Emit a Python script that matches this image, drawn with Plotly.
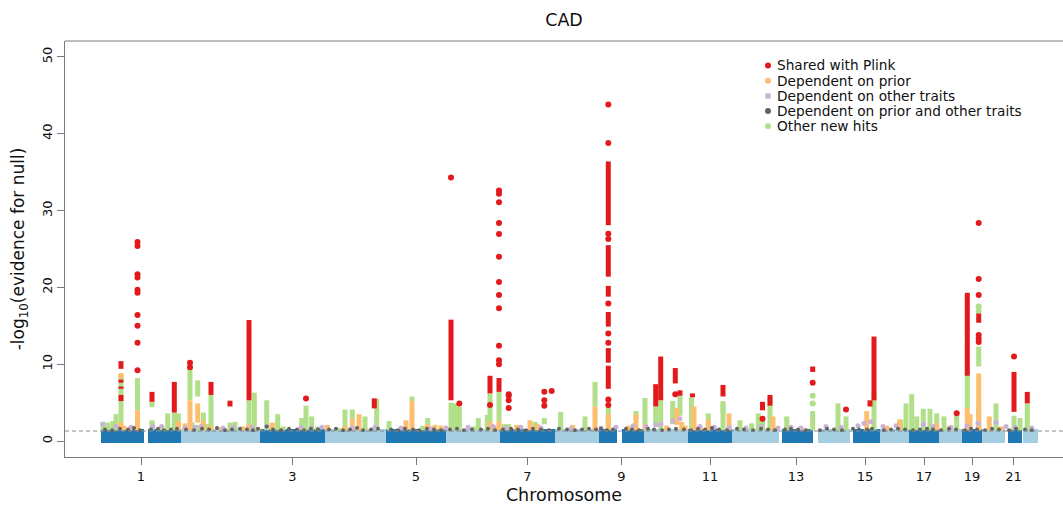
import plotly.graph_objects as go

# ---------------- data ----------------
chrom_labels = [str(i) for i in range(1, 23)]
# chromosome extent in SNP-index units (thousands of SNPs)
chrom_size = [80, 79, 65, 61, 60, 54, 55, 44, 45, 44, 44, 47, 34, 37, 30, 29, 30, 23, 20, 23, 17, 16]
# leading part of acrocentric chromosomes without genotyped SNPs
chrom_unmapped_p = [0, 0, 0, 0, 0, 0, 0, 0, 0, 0, 0, 0, 3, 5, 3, 0, 0, 0, 0, 0, 3, 1]
# centromere gaps (offset within chromosome)
gap_chrom = [1, 9]
gap_start = [42.7, 18]
gap_end = [47.3, 23]
threshold = 1.3
labelled_chroms = [1, 3, 5, 7, 9, 11, 13, 15, 17, 19, 21]

# columns of dense hits (genome index, low, high)
red_seg_x = [20, 20, 20, 20, 51, 73.3, 110, 129, 148, 273.3, 350, 389, 398, 507.3, 507.3, 507.3, 507.3, 507.3, 507.3,
             554.7, 559.7, 574.3, 579, 591.5, 622, 661.5, 669, 711.7, 769, 773, 866.3, 877.7, 913, 926.3]
red_seg_lo = [9.4, 7.6, 6.8, 5.2, 5.1, 3.7, 6.0, 4.5, 5.3, 4.25, 5.3, 6.2, 6.4, 28.1, 21.4, 18.8, 14.9, 10.2, 6.8,
              4.5, 5.3, 7.5, 5.9, 5.7, 5.8, 4.0, 4.6, 9.0, 4.5, 5.3, 8.5, 15.4, 3.8, 4.9]
red_seg_hi = [10.4, 8.0, 7.1, 6.0, 6.4, 7.7, 7.7, 5.25, 15.75, 5.55, 15.8, 8.5, 8.2, 36.4, 25.5, 20.2, 16.8, 12.1, 9.8,
              7.4, 11.0, 9.5, 6.6, 6.2, 7.3, 5.1, 6.0, 9.7, 5.3, 13.6, 19.3, 16.6, 9.0, 6.4]
red_dot_x = [36.5, 36.5, 36.5, 36.5, 36.5, 36.5, 36.5, 36.5, 36.5, 36.5, 89, 89, 205, 350, 358.3, 389,
             398, 398, 398, 398, 398, 398, 398, 398, 398, 398, 398, 398, 407.7, 407.7, 407.7, 407.7,
             443.3, 443.3, 443.3, 450.7, 507.3, 507.3, 507.3, 507.3, 507.3, 507.3, 507.3, 507.3, 507.3,
             574.3, 661.5, 711.7, 745, 855.7, 877.7, 877.7, 877.7, 877.7, 877.7, 877.7, 913]
red_dot_y = [25.9, 25.4, 21.7, 21.3, 19.7, 19.3, 16.4, 15.0, 12.8, 9.2, 10.2, 9.6, 5.55, 34.3, 4.9, 4.7,
             32.6, 32.2, 31.1, 28.4, 26.95, 24.0, 20.7, 19.0, 17.3, 12.4, 10.5, 10.0, 6.1, 5.9, 5.3, 4.3,
             6.4, 5.3, 4.6, 6.5, 43.8, 38.8, 27.0, 26.3, 17.9, 14.0, 12.8, 5.4, 4.7,
             6.1, 2.9, 7.6, 4.1, 3.6, 28.4, 21.1, 19.0, 13.8, 13.3, 12.9, 11.0]

orange_seg_x = [20, 23, 30, 36.5, 77.3, 84, 89, 96.7, 102.3, 110, 120, 142, 148, 158, 171.3, 226.3, 244, 251.3,
                258, 305, 311, 326.7, 334, 340, 389, 393, 398, 415.7, 429, 436.3, 471.7, 494, 507.3, 527.3,
                535, 544, 565.7, 575.7, 580.7, 584, 593, 599, 607.3, 628, 672, 701.7, 765.7, 785.7, 798.5,
                835.7, 849, 866.3, 869, 877.7, 888.3, 900.7]
orange_seg_lo = [1.4, 1.4, 1.4, 1.4, 1.4, 1.4, 1.4, 2.4, 1.4, 1.4, 1.4, 1.4, 1.4, 1.4, 1.4, 1.4, 1.4, 1.4,
                 1.4, 1.4, 1.4, 1.4, 1.4, 1.4, 1.4, 1.4, 1.4, 1.4, 1.4, 1.4, 1.4, 1.4, 1.4, 1.4,
                 1.4, 1.4, 1.4, 2.1, 1.4, 1.4, 1.4, 1.4, 1.4, 1.4, 1.4, 1.4, 1.4, 1.4, 1.4,
                 1.4, 1.4, 1.4, 1.4, 1.4, 1.4, 1.4]
orange_seg_hi = [2.5, 2.0, 1.8, 4.0, 2.6, 2.3, 5.3, 4.9, 2.6, 2.0, 1.8, 1.9, 2.2, 1.7, 2.4, 2.1, 2.0, 2.9,
                 3.5, 2.7, 5.2, 2.2, 2.1, 2.0, 2.5, 2.0, 2.6, 2.1, 2.7, 2.2, 2.1, 4.5, 3.5, 2.0,
                 3.5, 2.2, 2.0, 4.3, 2.5, 2.0, 4.5, 1.8, 2.8, 3.6, 3.2, 1.7, 3.9, 2.0, 2.8,
                 2.3, 2.0, 4.3, 3.5, 8.8, 3.2, 1.9]
orange_dot_x = [20]
orange_dot_y = [8.5]

green_seg_x = [2, 7, 12, 15, 20, 36.5, 51, 51, 60.7, 66.7, 73.3, 77.3, 89, 91, 96.7, 96.7, 102.3, 106, 110, 129,
               134, 148, 153.3, 165.7, 176.7, 182.3, 200.7, 205, 210.7, 216.7, 237.3, 244, 251.3, 264, 275.7,
               288, 311, 321.7, 326.7, 350, 354, 358.3, 372.3, 377.3, 386.3, 389, 398, 403, 407.7, 434, 443.3,
               459.7, 484, 494, 507.3, 535, 544, 554.7, 559.7, 571.7, 579, 590.5, 607.3, 622, 622, 639, 650.7,
               657.3, 661.5, 669, 685.7, 711.7, 737, 745, 773, 799.7, 805, 810.7, 815.7, 822.3, 829, 835.7,
               843, 855.7, 866.3, 877.7, 877.7, 895, 913, 919, 926.3]
green_seg_lo = [1.4, 1.4, 1.4, 1.4, 1.4, 4.0, 1.4, 4.4, 1.4, 1.4, 1.4, 1.4, 5.3, 1.4, 1.4, 5.8, 1.4, 1.4, 1.4, 1.4,
                1.4, 1.4, 1.4, 1.4, 1.4, 1.4, 1.4, 1.4, 1.4, 1.4, 1.4, 1.4, 2.9, 1.4, 1.4,
                1.4, 5.2, 1.4, 1.4, 1.4, 1.4, 1.4, 1.4, 1.4, 1.4, 1.4, 2.6, 1.4, 1.4, 1.4, 2.2,
                1.4, 1.4, 4.5, 1.4, 2.9, 2.2, 2.2, 1.4, 2.2, 3.3, 1.4, 1.4, 1.4, 3.6, 1.4, 1.4,
                1.4, 1.4, 1.4, 1.4, 1.4, 1.4, 1.4, 1.4, 1.4, 1.4, 1.4, 1.4, 1.4, 1.4, 1.4,
                1.4, 1.4, 4.3, 9.7, 1.4, 1.4, 1.4, 1.4, 1.4]
green_seg_hi = [2.5, 2.4, 2.6, 3.5, 8.6, 8.2, 2.7, 5.1, 2.0, 3.6, 3.7, 3.6, 9.5, 2.4, 2.1, 7.9, 3.7, 2.2, 6.0, 2.4,
                2.5, 5.3, 6.3, 5.3, 3.5, 1.9, 3.0, 4.6, 3.2, 1.9, 1.7, 4.1, 4.1, 3.2, 5.5,
                2.6, 5.8, 2.0, 3.0, 5.0, 4.9, 4.5, 1.9, 3.0, 3.4, 6.2, 6.4, 2.2, 2.2, 2.5, 3.0,
                3.8, 3.2, 7.7, 4.5, 3.9, 5.6, 4.5, 5.3, 5.2, 5.9, 5.7, 3.6, 5.0, 5.2, 2.7, 2.3,
                3.6, 2.9, 5.7, 3.2, 3.9, 4.9, 3.2, 6.2, 2.8, 4.9, 6.1, 3.2, 4.2, 4.2, 3.6,
                3.2, 3.3, 8.8, 12.3, 4.5, 4.9, 3.3, 3.0, 4.9]
green_dot_x = [711.7, 711.7, 877.7, 877.7]
green_dot_y = [5.9, 4.9, 17.5, 16.9]

purple_x = [2, 15, 30, 52, 60.7, 84, 94, 100, 122, 132, 151, 166, 200, 210, 221, 251, 274, 300, 330, 345, 367,
            392, 405, 420, 440, 470, 500, 515, 532, 545, 554.7, 559.7, 571.7, 579, 599, 613.3, 628, 645, 660,
            677, 690, 700, 725, 740, 757, 763, 770, 782, 795, 822.3, 832, 850, 866, 877, 895, 905, 914, 930.7]
purple_y = [2.2, 1.9, 1.8, 1.9, 1.9, 1.7, 1.8, 1.9, 1.7, 1.8, 1.8, 1.9, 1.8, 1.7, 1.8, 1.7, 1.8, 1.7, 1.6, 1.7, 1.8,
            1.9, 1.7, 1.8, 1.7, 1.6, 1.7, 1.8, 2.0, 1.9, 2.1, 2.2, 2.6, 2.9, 1.9, 1.8, 1.8, 1.7, 1.9,
            1.7, 1.8, 1.7, 1.9, 1.8, 2.0, 2.3, 2.5, 1.9, 2.0, 2.2, 1.9, 1.8, 2.0, 2.3, 2.4, 1.9, 1.8, 1.7]

grey_x = [4, 11, 19, 27, 33, 39, 50, 57, 63, 70, 76, 85, 93, 101, 108, 116, 124, 131, 139, 146, 152, 157, 165.7,
          172, 180, 188, 196, 203, 210, 217, 228, 235, 242, 249, 256, 262, 270, 277, 290, 297, 304, 312, 318,
          326, 333, 340, 349, 356, 363, 371, 380, 387, 394, 402, 410, 417, 425, 432, 440, 448, 458, 466, 474,
          481, 488, 495, 500, 506, 512, 525, 531, 538, 547, 553, 561, 568, 575, 583, 590, 597, 604, 611, 618,
          626, 636, 643, 652, 660, 667, 674, 684, 690, 697, 705, 719, 726, 733, 741, 752, 758, 766, 771, 783,
          790, 797, 804, 812, 819, 826, 832, 840, 848, 855, 864, 870, 876, 884, 891, 898, 908, 915, 924, 930.7]
grey_y = [1.5, 1.4, 1.6, 1.5, 1.7, 1.4, 1.5, 1.6, 1.4, 1.5, 1.6, 1.5, 1.4, 1.6, 1.5, 1.7, 1.4, 1.5, 1.6, 1.5,
          1.4, 1.6, 1.9, 1.5, 1.4, 1.6, 1.5, 1.4, 1.6, 1.5, 1.5, 1.6, 1.4, 1.5, 1.7, 1.4, 1.5, 1.6, 1.5,
          1.4, 1.6, 1.5, 1.4, 1.6, 1.5, 1.4, 1.5, 1.6, 1.4, 1.5, 1.5, 1.6, 1.4, 1.5, 1.6, 1.5, 1.4, 1.6,
          1.5, 1.4, 1.6, 1.5, 1.4, 1.5, 1.6, 1.5, 1.6, 1.4, 1.5, 1.6, 1.5, 1.4, 1.6, 1.5, 1.4, 1.5, 1.6,
          1.5, 1.4, 1.6, 1.5, 1.7, 1.5, 1.4, 1.6, 1.5, 1.4, 1.6, 1.5, 1.4, 1.5, 1.6, 1.5, 1.4, 1.4, 1.6,
          1.5, 1.4, 1.6, 1.5, 1.5, 1.6, 1.4, 1.5, 1.6, 1.5, 1.4, 1.5, 1.6, 1.5, 1.4, 1.6, 1.5, 1.4, 1.6,
          1.5, 1.4, 1.6, 1.5, 1.4, 1.6, 1.5, 1.4, 1.5]

categories = ["Shared with Plink", "Dependent on prior", "Dependent on other traits",
              "Dependent on prior and other traits", "Other new hits"]

# ---------------- style ----------------
C_RED, C_ORANGE, C_PURPLE, C_GREY, C_GREEN = "#e31a1c", "#fdbf6f", "#cab2d6", "#636363", "#b2df8a"
C_DARK, C_LIGHT = "#1f78b4", "#a6cee3"
cat_colors = [C_RED, C_ORANGE, C_PURPLE, C_GREY, C_GREEN]
FONT = "DejaVu Sans"
W, H = 1063, 505
ML, MR, MT, MB = 65, 0, 41, 48
PAD = 2  # half-width of band outline (px == index units)
SEG_W = 5
DOT = 6

# cumulative chromosome starts
starts = []
acc = 0
for s in chrom_size:
    starts.append(acc)
    acc += s
total = acc

# band pieces
bx, bw, bc = [], [], []
for i, s in enumerate(chrom_size):
    c = i + 1
    a = starts[i] + chrom_unmapped_p[i]
    b = starts[i] + s
    pieces = [(a, b)]
    if c in gap_chrom:
        k = gap_chrom.index(c)
        pieces = [(a, starts[i] + gap_start[k]), (starts[i] + gap_end[k], b)]
    for (p0, p1) in pieces:
        p0 += PAD
        p1 -= PAD
        bx.append((p0 + p1) / 2)
        bw.append(p1 - p0)
        bc.append(C_DARK if c % 2 == 1 else C_LIGHT)

fig = go.Figure()
fig.add_trace(go.Bar(x=bx, y=[threshold] * len(bx), base=0, width=bw,
                     marker=dict(color=bc, line=dict(color=bc, width=2 * PAD)),
                     showlegend=False, hoverinfo="skip"))


def seg_trace(xs, lo, hi, color, name):
    X, Y = [], []
    for x, l, h in zip(xs, lo, hi):
        X += [x, x, None]
        Y += [l, h, None]
    return go.Scatter(x=X, y=Y, mode="lines", line=dict(color=color, width=SEG_W),
                      name=name, showlegend=False, hoverinfo="skip")


def dot_trace(xs, ys, color, name, size=DOT):
    return go.Scatter(x=xs, y=ys, mode="markers", marker=dict(color=color, size=size, line=dict(width=0)),
                      name=name, showlegend=False)


fig.add_trace(seg_trace(green_seg_x, green_seg_lo, green_seg_hi, C_GREEN, categories[4]))
fig.add_trace(dot_trace(green_dot_x, green_dot_y, C_GREEN, categories[4]))
fig.add_trace(seg_trace(orange_seg_x, orange_seg_lo, orange_seg_hi, C_ORANGE, categories[1]))
fig.add_trace(dot_trace(orange_dot_x, orange_dot_y, C_ORANGE, categories[1]))
fig.add_trace(dot_trace(purple_x, purple_y, C_PURPLE, categories[2], size=5))
fig.add_trace(dot_trace(grey_x, grey_y, C_GREY, categories[3], size=4))
fig.add_trace(seg_trace(red_seg_x, red_seg_lo, red_seg_hi, C_RED, categories[0]))
fig.add_trace(dot_trace(red_dot_x, red_dot_y, C_RED, categories[0]))

tickvals = [starts[c - 1] + chrom_size[c - 1] / 2 for c in labelled_chroms]
ticktext = [chrom_labels[c - 1] for c in labelled_chroms]

plot_w = W - ML - MR
x0 = -(101 - ML)
xr = [x0, x0 + plot_w]

shapes = [
    dict(type="line", xref="paper", yref="y", x0=0, x1=1, y0=threshold, y1=threshold,
         line=dict(color="#8c8c8c", width=1, dash="4px,3px"), layer="above"),
    dict(type="line", xref="paper", yref="paper", x0=0, x1=1, y0=1, y1=1,
         line=dict(color="#7a7a7a", width=1)),
]
annotations = []
plot_h = H - MT - MB
leg_x_dot = 768
leg_x_text = 775
leg_y0 = 65.5
leg_dy = 15.2
for i, (name, col) in enumerate(zip(categories, cat_colors)):
    py = leg_y0 + i * leg_dy
    xp = (leg_x_dot - ML) / plot_w
    yp = (H - MB - py) / plot_h
    shapes.append(dict(type="circle", xref="paper", yref="paper", xsizemode="pixel", ysizemode="pixel",
                       xanchor=xp, yanchor=yp, x0=-3, x1=3, y0=-3, y1=3,
                       fillcolor=col, line=dict(width=0)))
    annotations.append(dict(xref="paper", yref="paper", x=(leg_x_text - ML) / plot_w, y=yp,
                            xanchor="left", yanchor="middle", text=name, showarrow=False,
                            font=dict(family=FONT, size=13.7, color="#111")))

fig.update_layout(
    width=W, height=H, margin=dict(l=ML, r=MR, t=MT, b=MB),
    paper_bgcolor="white", plot_bgcolor="white",
    barmode="overlay", bargap=0,
    showlegend=False,
    title=dict(text="CAD", x=0.5, xref="paper", xanchor="center", y=1 - 20 / H, yanchor="middle",
               font=dict(family=FONT, size=17.5, color="#111")),
    font=dict(family=FONT, color="#111"),
    xaxis=dict(range=xr, tickvals=tickvals, ticktext=ticktext, ticks="outside", ticklen=7,
               tickcolor="#7a7a7a", showline=True, linecolor="#7a7a7a", linewidth=1,
               showgrid=False, zeroline=False, tickfont=dict(family=FONT, size=13, color="#111"),
               title=dict(text="Chromosome", font=dict(family=FONT, size=17.5, color="#111"), standoff=6)),
    yaxis=dict(range=[-2.08, 52.08], tickvals=[0, 10, 20, 30, 40, 50], ticks="outside", ticklen=7,
               tickcolor="#7a7a7a", showline=True, linecolor="#7a7a7a", linewidth=1, tickangle=-90,
               showgrid=False, zeroline=False, tickfont=dict(family=FONT, size=13, color="#111"),
               title=dict(text="-log<sub>10</sub>(evidence for null)",
                          font=dict(family=FONT, size=17, color="#111"), standoff=10)),
    shapes=shapes, annotations=annotations,
)

fig.write_html("out.html")
